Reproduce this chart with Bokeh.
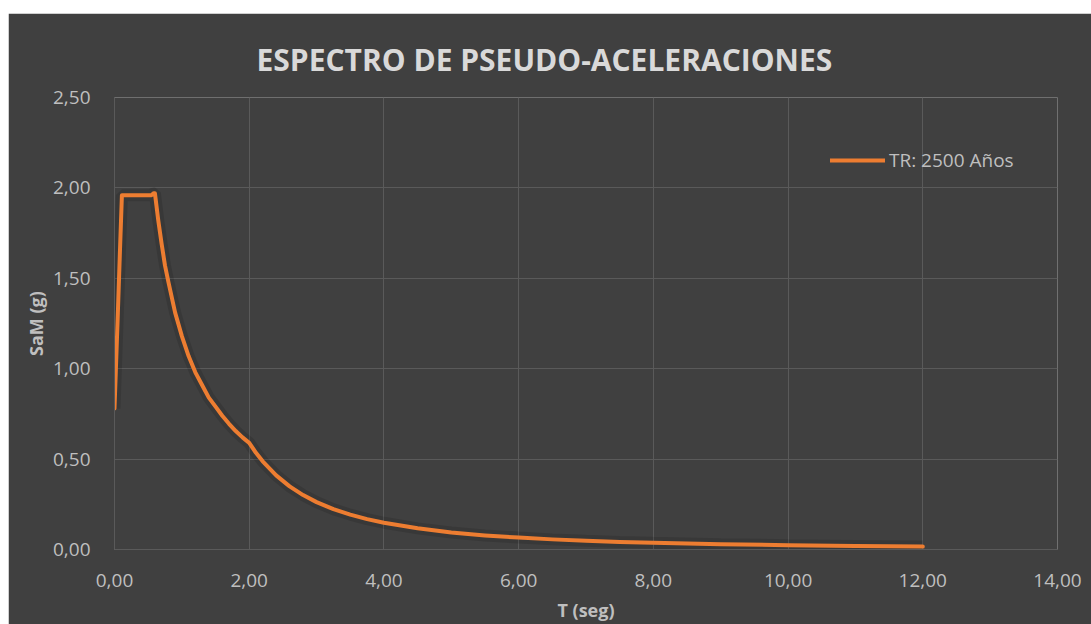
from bokeh.plotting import figure
from bokeh.models import (Range1d, FixedTicker, CustomJSTickFormatter,
                          Legend, LegendItem, Spacer, ColumnDataSource)
from bokeh.layouts import column, row
from bokeh.embed import file_html
from bokeh.resources import INLINE

# ---- data ----
periodo_t = [0.0, 0.02, 0.05, 0.08, 0.11, 0.2, 0.3, 0.4, 0.5, 0.55, 0.58, 0.6,
             0.65, 0.7, 0.75, 0.8, 0.9, 1.0, 1.1, 1.2, 1.3, 1.4, 1.5, 1.6, 1.7,
             1.8, 1.9, 2.0, 2.1, 2.2, 2.4, 2.6, 2.8, 3.0, 3.25, 3.5, 3.75, 4.0,
             4.5, 5.0, 5.5, 6.0, 6.5, 7.0, 7.5, 8.0, 9.0, 10.0, 11.0, 12.0]
sam_g = [0.78, 0.99, 1.31, 1.64, 1.96, 1.96, 1.96, 1.96, 1.96, 1.96, 1.97, 1.97,
         1.82, 1.69, 1.57, 1.48, 1.31, 1.18, 1.07, 0.98, 0.91, 0.84, 0.79, 0.74, 0.695,
         0.655, 0.62, 0.59, 0.535, 0.488, 0.41, 0.349, 0.301, 0.262, 0.223, 0.193, 0.168, 0.148,
         0.117, 0.094, 0.078, 0.066, 0.056, 0.048, 0.042, 0.037, 0.029, 0.024, 0.020, 0.016]
x_ticks = [0, 2, 4, 6, 8, 10, 12, 14]
y_ticks = [0.0, 0.5, 1.0, 1.5, 2.0, 2.5]
series_name = "TR: 2500 Años"
title_text = "ESPECTRO DE PSEUDO-ACELERACIONES"

BG = "#404040"
GRID = "#5a5a5a"
TXT = "#bfbfbf"
ORANGE = "#ED7D31"
FONT = "Open Sans"

p = figure(width=1083, height=611, output_backend="svg", toolbar_location=None,
           x_range=Range1d(0, 14), y_range=Range1d(0, 2.5),
           background_fill_color=BG, border_fill_color=BG,
           min_border_left=106, min_border_right=34, min_border_top=84,
           min_border_bottom=72, title=title_text)
p.outline_line_color = None

p.title.align = "left"
p.title.offset = 142
p.title.standoff = 36
p.title.text_line_height = 1.0
p.title.text_color = "#d9d9d9"
p.title.text_font = FONT
p.title.text_font_style = "bold"
p.title.text_font_size = "30px"

src = ColumnDataSource(dict(t=periodo_t, sa=sam_g))
p.line("t", "sa", source=src, line_color="black", line_alpha=0.12, line_width=12)
r = p.line("t", "sa", source=src, line_color=ORANGE, line_width=4,
           line_join="round", line_cap="round")

fmt = CustomJSTickFormatter(code="return tick.toFixed(2).replace('.', ',');")
p.xaxis.ticker = FixedTicker(ticks=x_ticks)
p.yaxis.ticker = FixedTicker(ticks=y_ticks)
for ax in (p.xaxis[0], p.yaxis[0]):
    ax.formatter = fmt
    ax.axis_line_color = GRID
    ax.major_tick_line_color = None
    ax.minor_tick_line_color = None
    ax.major_label_text_color = TXT
    ax.major_label_text_font = FONT
    ax.major_label_text_font_size = "19px"
    ax.axis_label_text_color = TXT
    ax.axis_label_text_font = FONT
    ax.axis_label_text_font_style = "bold"
    ax.axis_label_text_font_size = "18px"

p.xaxis.axis_label = "T (seg)"
p.yaxis.axis_label = "SaM (g)"
p.xaxis.major_label_standoff = 18
p.xaxis.axis_label_standoff = 8
p.yaxis.major_label_standoff = 18
p.yaxis.axis_label_standoff = 2

p.xgrid.grid_line_color = GRID
p.ygrid.grid_line_color = GRID
p.xgrid.grid_line_width = 1
p.ygrid.grid_line_width = 1

legend = Legend(items=[LegendItem(label=series_name, renderers=[r])],
                location=(716, 376), background_fill_alpha=0, border_line_color=None,
                padding=0, margin=0, glyph_width=55, glyph_height=24, label_standoff=4,
                label_text_color=TXT, label_text_font=FONT, label_text_font_size="19px")
p.add_layout(legend)

layout = row(Spacer(width=8, height=624),
             column(Spacer(height=13, width=1083), p, spacing=0), spacing=0)
layout.styles = {"background-color": "white"}
open("out.html", "w").write(file_html(layout, INLINE))
